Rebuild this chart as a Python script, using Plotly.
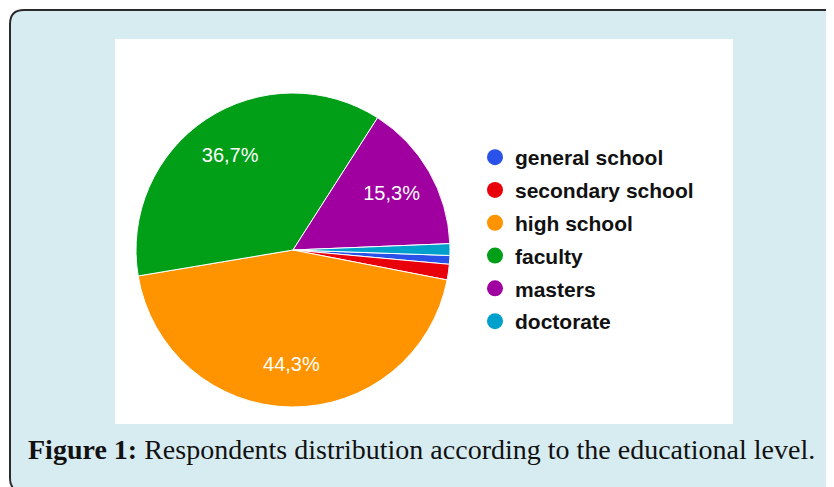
import plotly.graph_objects as go

categories = ["general school", "secondary school", "high school", "faculty", "masters", "doctorate"]
values = [0.9, 1.6, 44.3, 36.7, 15.3, 1.2]
slice_labels = ["", "", "44,3%", "36,7%", "15,3%", ""]
colors = ["#2a52e8", "#e8000b", "#ff9400", "#009f17", "#a0009f", "#00a0cc"]
caption = "<b>Figure 1:</b> Respondents distribution according to the educational level."

# page body has an 8px margin; the figure fills the rest of the 834x487 window
OX, OY = 8, 8
W, H = 834 - OX, 487 - OY
def px(x): return (x - OX) / W
def py(y): return 1 - (y - OY) / H

dom = dict(x=[px(136), px(450)], y=[py(407), py(93)])
pie_common = dict(labels=categories, values=values, sort=False, direction="clockwise",
                  rotation=92, domain=dom, showlegend=False)

fig = go.Figure()
fig.add_trace(go.Pie(
    **pie_common, textinfo="none",
    marker=dict(colors=colors, line=dict(color="white", width=1)),
    hoverinfo="label+percent",
))
# transparent ring overlay that carries the percentage labels further out
fig.add_trace(go.Pie(
    **pie_common, hole=0.45, text=slice_labels,
    textinfo="text", textposition="inside", insidetextorientation="horizontal",
    textfont=dict(family="Liberation Sans, Arial", size=20, color="white"),
    marker=dict(colors=["rgba(0,0,0,0)"] * len(values), line=dict(width=0)),
    hoverinfo="skip",
))
for i, (c, col) in enumerate(zip(categories, colors)):
    fig.add_trace(go.Scatter(
        x=[None], y=[None], mode="markers", name=c, legendgroup=f"g{i}",
        marker=dict(color=col, size=16, symbol="circle", line=dict(width=0)),
    ))

r = 14
box_path = (f"M {px(10)},{py(10+r)} Q {px(10)},{py(10)} {px(10+r)},{py(10)} "
            f"L {px(900)},{py(10)} L {px(900)},{py(492)} L {px(10+r)},{py(492)} "
            f"Q {px(10)},{py(492)} {px(10)},{py(492-r)} Z")
fig.update_layout(
    width=W, height=H, margin=dict(l=0, r=0, t=0, b=0),
    paper_bgcolor="white", plot_bgcolor="rgba(0,0,0,0)",
    xaxis=dict(visible=False), yaxis=dict(visible=False),
    shapes=[
        dict(type="path", xref="paper", yref="paper", path=box_path,
             fillcolor="#d7ecf1", line=dict(color="#2b2b2b", width=2), layer="below"),
        dict(type="rect", xref="paper", yref="paper", x0=px(115), x1=px(733),
             y0=py(424), y1=py(39), fillcolor="white", line=dict(width=0), layer="below"),
    ],
    legend=dict(x=px(475), y=py(137), xanchor="left", yanchor="top",
                font=dict(family="Liberation Sans, Arial", size=21, color="#111", weight="bold"),
                bgcolor="rgba(0,0,0,0)", tracegroupgap=2.5, traceorder="grouped",
                itemclick=False),
    annotations=[dict(text=caption, xref="paper", yref="paper", x=px(26), y=py(449),
                      xanchor="left", yanchor="middle", showarrow=False,
                      font=dict(family="Liberation Serif, serif", size=28, color="#111"))],
)
fig.write_html("out.html")
